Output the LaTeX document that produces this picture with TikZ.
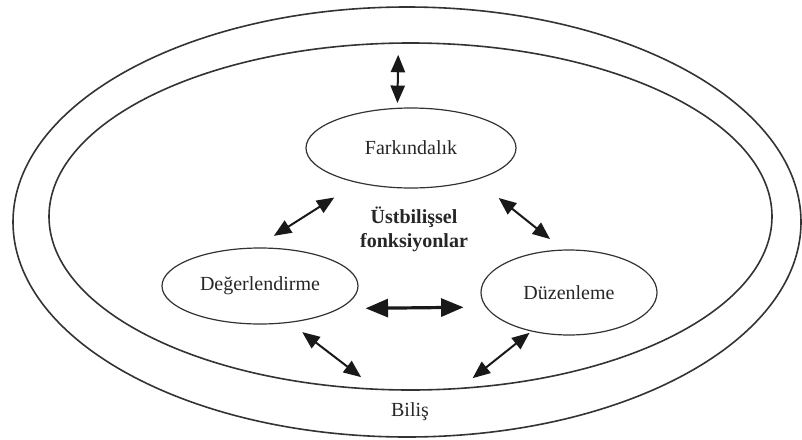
\documentclass[tikz,border=0pt]{standalone}
\usepackage{fontspec}
\setmainfont{Liberation Serif}
\usepackage{tikz}
\usetikzlibrary{arrows,shapes.geometric}

\tikzset{
  elps/.style={draw=black!80,ellipse,line width=0.6pt,inner sep=0pt,outer sep=0pt,font=\fontsize{10}{12}\selectfont,text=black!85},
  ring/.style={draw=black!80,ellipse,line width=0.8pt,inner sep=0pt,outer sep=0pt},
  link/.style={<->,line width=1pt,black!90}
}

\begin{document}
\begin{tikzpicture}[line cap=round,line join=round,>=triangle 45,x=0.5pt,y=-0.5pt]
        \useasboundingbox (0,0) rectangle (802,439);
        \node[ring,minimum width=394pt,minimum height=215pt] (bilis) at (407,222) {};
        \node[ring,minimum width=361.5pt,minimum height=173.5pt] (ustbilis) at (410.5,216.5) {};
        \node[elps,minimum width=105pt,minimum height=40pt] (fark) at (411,148) {Farkındalık};
        \node[elps,minimum width=98pt,minimum height=38pt] (deger) at (260,286) {Değerlendirme};
        \node[elps,minimum width=88pt,minimum height=42.5pt] (duzen) at (569,292.5) {Düzenleme};
        \node[font=\fontsize{10}{12}\selectfont\bfseries,align=center,text=black!85] (fonk) at (414,229) {Üstbilişsel\\fonksiyonlar};
        \node[font=\fontsize{10}{12}\selectfont,text=black!85] (bilislabel) at (410,412) {Biliş};
        \draw [link,shorten <=5.9pt,shorten >=2.7pt] (ustbilis.94.45) -- (fark.109.5);
        \draw [link,shorten <=14pt,shorten >=11.4pt] (fark.213.5) -- (deger.98);
        \draw [link,shorten <=14.8pt,shorten >=8.85pt] (fark.334) -- (duzen.97);
        \draw [link,line width=1.6pt,shorten <=13.5pt,shorten >=11.5pt] (deger.344.6) -- (duzen.190.7);
        \draw [link,shorten <=8.15pt,shorten >=10pt] (deger.309.6) -- (ustbilis.259.7);
        \draw [link,shorten <=1.5pt,shorten >=8.25pt] (duzen.226.5) -- (ustbilis.286.1);
\end{tikzpicture}
\end{document}
